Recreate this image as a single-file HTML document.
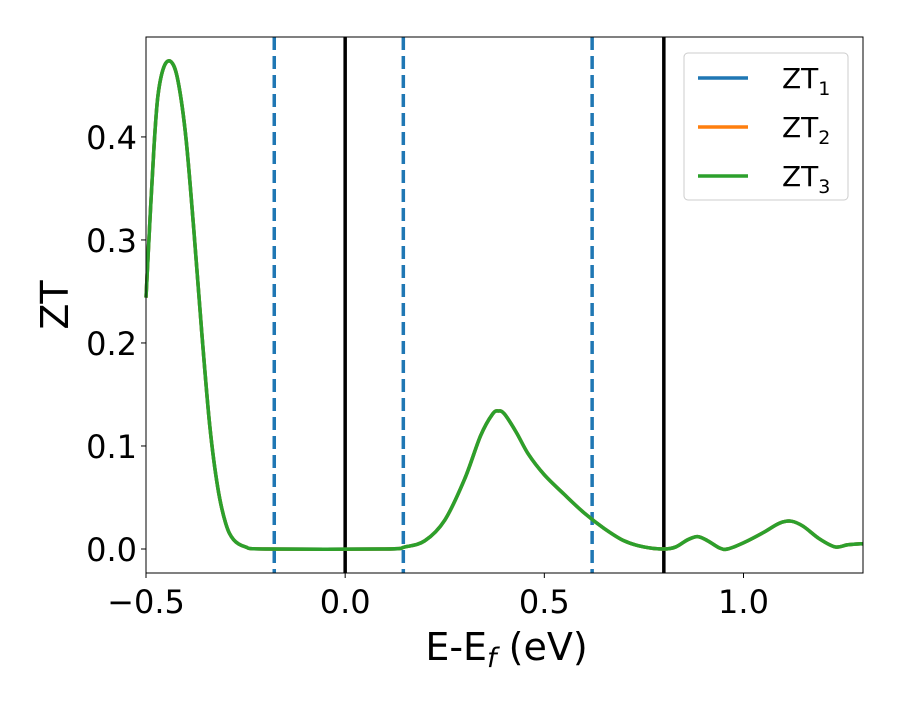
<!DOCTYPE html>
<html><head><meta charset="utf-8"><style>
body{margin:0;background:#fff;}
svg text{font-family:"DejaVu Sans","Liberation Sans",sans-serif;}
</style></head><body>
<svg id="chart" width="900" height="700" xmlns="http://www.w3.org/2000/svg">
<g id="plot"></g>
</svg>
<script>
const xs=[-0.5,-0.49,-0.48,-0.47,-0.455,-0.437,-0.42,-0.40,-0.38,-0.36,-0.34,-0.32,-0.30,-0.28,-0.25,-0.2,0.1,0.15,0.2,0.25,0.3,0.34,0.37,0.385,0.40,0.43,0.46,0.50,0.55,0.60,0.65,0.70,0.75,0.80,0.83,0.86,0.885,0.91,0.94,0.96,1.0,1.05,1.09,1.12,1.15,1.19,1.23,1.26,1.29,1.3];
const zt=[0.244,0.32,0.39,0.44,0.468,0.473,0.455,0.40,0.31,0.21,0.12,0.06,0.025,0.009,0.002,0.0,0.0,0.002,0.008,0.028,0.068,0.11,0.131,0.134,0.131,0.113,0.092,0.072,0.053,0.035,0.02,0.008,0.002,0.0,0.002,0.009,0.012,0.008,0.001,0.0,0.006,0.016,0.025,0.027,0.022,0.01,0.002,0.004,0.005,0.005];
const xTicks=[-0.5,0.0,0.5,1.0];
const xTickLabels=["\u22120.5","0.0","0.5","1.0"];
const yTicks=[0.0,0.1,0.2,0.3,0.4];
const yTickLabels=["0.0","0.1","0.2","0.3","0.4"];
const dashedLines=[-0.178,0.146,0.62];
const solidLines=[0.0,0.8];
const seriesNames=["1","2","3"];
const seriesColors=["#1f77b4","#ff7f0e","#2ca02c"];

const L=146,R=863,T=37,B=573,x0=-0.5,x1=1.3,y0=-0.0233,y1=0.497;
const X=v=>L+(v-x0)/(x1-x0)*(R-L);
const Y=v=>B-(v-y0)/(y1-y0)*(B-T);
const NS="http://www.w3.org/2000/svg";
const g=document.getElementById('plot');
function mk(tag,attrs,parent){const e=document.createElementNS(NS,tag);for(const k in attrs)e.setAttribute(k,attrs[k]);(parent||g).appendChild(e);return e;}

dashedLines.forEach(v=>{
 const l=mk('line',{x1:X(v),x2:X(v),y1:T,y2:B,stroke:'#1f77b4','stroke-width':3.5,'stroke-dasharray':'13,6'});
 
 
});
solidLines.forEach(v=>{
 const l=mk('line',{x1:X(v),x2:X(v),y1:T,y2:B,stroke:'#000','stroke-width':3.5});
 
 
});
// smooth Catmull-Rom path through data points
const P=xs.map((x,i)=>[X(x),Y(zt[i])]);
let d='M'+P[0][0].toFixed(2)+','+P[0][1].toFixed(2);
for(let i=0;i<P.length-1;i++){
 const p0=P[Math.max(0,i-1)],p1=P[i],p2=P[i+1],p3=P[Math.min(P.length-1,i+2)];
 const c1=[p1[0]+(p2[0]-p0[0])/6,p1[1]+(p2[1]-p0[1])/6];
 const c2=[p2[0]-(p3[0]-p1[0])/6,p2[1]-(p3[1]-p1[1])/6];
 d+=' C'+c1.map(v=>v.toFixed(2)).join(',')+' '+c2.map(v=>v.toFixed(2)).join(',')+' '+p2[0].toFixed(2)+','+p2[1].toFixed(2);
}
seriesColors.forEach((c,i)=>{
 const p=mk('path',{d:d,fill:'none',stroke:c,'stroke-width':3.5,'stroke-linejoin':'round'});
 
 
});
const frame=mk('rect',{x:L,y:T,width:R-L,height:B-T,fill:'none',stroke:'#000','stroke-width':1});



xTicks.forEach((v,i)=>{
 mk('line',{x1:X(v),x2:X(v),y1:B,y2:B+5,stroke:'#000'});
 const t=mk('text',{x:X(v),y:B+40,'text-anchor':'middle','font-size':32});
 t.textContent=xTickLabels[i];
 
 
});
yTicks.forEach((v,i)=>{
 mk('line',{x1:L-5,x2:L,y1:Y(v),y2:Y(v),stroke:'#000'});
 const t=mk('text',{x:L-9,y:Y(v)+12,'text-anchor':'end','font-size':32});
 t.textContent=yTickLabels[i];
 
 
});
const xl=mk('text',{x:(L+R)/2+2,y:660,'text-anchor':'middle','font-size':38});
xl.innerHTML='E-E<tspan font-style="italic" font-size="27" dy="7">f</tspan><tspan dy="-7"> (eV)</tspan>';


const yl=mk('text',{x:68,y:(T+B)/2,'text-anchor':'middle','font-size':38,transform:'rotate(-90 68 '+((T+B)/2)+')'});
yl.textContent='ZT';



const lg=mk('g',{});


mk('rect',{x:684,y:53,width:164,height:147,rx:4,fill:'#fff','fill-opacity':0.8,stroke:'#ccc'},lg);
seriesColors.forEach((c,i)=>{
 const y=78+i*49;
 const e=mk('g',{},lg);
 
 
 mk('line',{x1:698,x2:748,y1:y,y2:y,stroke:c,'stroke-width':3.5},e);
 const t=mk('text',{x:782,y:y+10,'font-size':28},e);
 t.innerHTML='ZT<tspan font-size="19" dy="7">'+seriesNames[i]+'</tspan>';
});
</script>
</body></html>
